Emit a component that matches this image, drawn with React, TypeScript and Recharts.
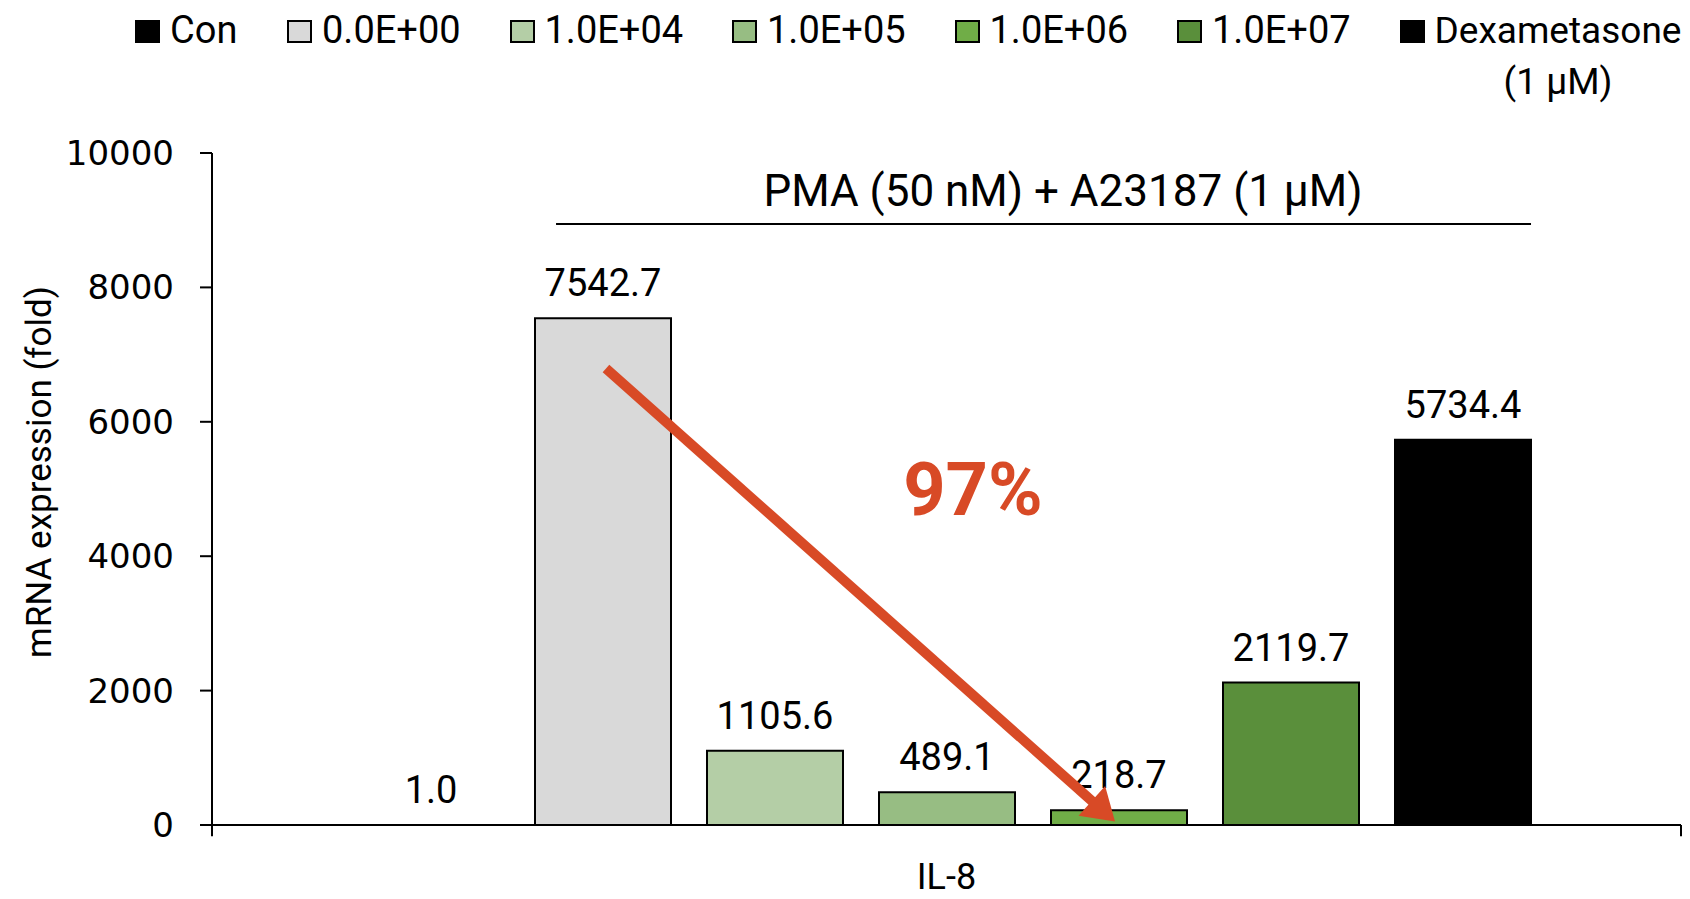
import React from 'react';
import {
  BarChart,
  Bar,
  XAxis,
  YAxis,
  LabelList,
  ReferenceLine,
  ReferenceDot,
  ScatterChart,
} from 'recharts';

// ---- data ----
const categories = ['IL-8'];
const seriesKeys = ['con', 'd0', 'd4', 'd5', 'd6', 'd7', 'dex'];
const seriesNames = ['Con', '0.0E+00', '1.0E+04', '1.0E+05', '1.0E+06', '1.0E+07', 'Dexametasone (1 µM)'];
const seriesValues = [1.0, 7542.7, 1105.6, 489.1, 218.7, 2119.7, 5734.4];
const seriesColors = ['#000000', '#D9D9D9', '#B4CEA6', '#97BD83', '#70AD47', '#5A8F3B', '#000000'];
const yTicks = [0, 2000, 4000, 6000, 8000, 10000];
const yAxisTitle = 'mRNA expression (fold)';
const groupLabel = 'PMA (50 nM) + A23187 (1 µM)';
const reductionLabel = '97%';

const data = categories.map((c) => {
  const row: any = { name: c };
  seriesKeys.forEach((k, i) => {
    row[k] = seriesValues[i];
  });
  return row;
});

const RED = '#D84A26';
const TEXT_FONT = 'Roboto, "Open Sans", sans-serif';
const MARGIN = { top: 153, right: 9, bottom: 0, left: 62 };
const Y_AXIS_W = 150;
const X_AXIS_H = 74;

const Arrow = (p: any) => {
  const { x1, y1, x2, y2 } = p;
  const dx = x2 - x1;
  const dy = y2 - y1;
  const L = Math.hypot(dx, dy) || 1;
  const ux = dx / L;
  const uy = dy / L;
  const hl = 31;
  const hw = 20;
  const bx = x2 - ux * hl;
  const by = y2 - uy * hl;
  return (
    <g>
      <line x1={x1} y1={y1} x2={bx + ux * 2} y2={by + uy * 2} stroke={RED} strokeWidth={10} />
      <polygon
        points={`${x2},${y2} ${bx - uy * hw},${by + ux * hw} ${bx + uy * hw},${by - ux * hw}`}
        fill={RED}
      />
    </g>
  );
};

const Legend = () => (
  <div
    style={{
      position: 'absolute',
      top: 5,
      left: 135,
      display: 'flex',
      fontFamily: TEXT_FONT,
      fontSize: 38,
      lineHeight: '51px',
      color: '#000',
    }}
  >
    {seriesNames.map((n, i) => {
      const last = i === seriesNames.length - 1;
      return (
        <div
          key={n}
          style={{
            display: 'flex',
            alignItems: 'flex-start',
            width: i === 0 ? 152 : last ? 290 : 222.5,
          }}
        >
          <div
            style={{
              width: 25,
              height: 23,
              boxSizing: 'border-box',
              border: '2px solid #000',
              background: seriesColors[i],
              marginTop: 15,
              marginRight: 10,
              flexShrink: 0,
            }}
          />
          <div style={{ textAlign: 'center', whiteSpace: 'pre-line', fontSize: last ? 37 : 38 }}>
            {n.replace(' (', '\n(')}
          </div>
        </div>
      );
    })}
  </div>
);

export default function App() {
  return (
    <div style={{ position: 'absolute', left: 0, top: 0, width: 1690, height: 899, background: '#fff' }}>
      <BarChart width={1690} height={899} data={data} margin={MARGIN} barSize={136} barGap={36}>
        <XAxis
          dataKey="name"
          height={X_AXIS_H}
          tickLine={false}
          tickSize={6}
          tickMargin={32}
          axisLine={{ stroke: '#000', strokeWidth: 2 }}
          tick={{ fill: '#000', fontSize: 36, fontFamily: TEXT_FONT }}
        />
        <YAxis
          domain={[0, 10000]}
          ticks={yTicks}
          interval={0}
          width={Y_AXIS_W}
          tickSize={12}
          tickMargin={26}
          axisLine={{ stroke: '#000', strokeWidth: 2 }}
          tickLine={{ stroke: '#000', strokeWidth: 2 }}
          tick={{ fill: '#000', fontSize: 34, fontFamily: '"DejaVu Sans"' }}
          label={{
            content: (props: any) => {
              const vb = props.viewBox || { x: 62, y: 153, width: 150, height: 672 };
              const cx = vb.x - 11;
              const cy = vb.y + vb.height / 2 - 17;
              return (
                <text
                  x={cx}
                  y={cy}
                  transform={`rotate(-90, ${cx}, ${cy})`}
                  textAnchor="middle"
                  fontSize={35}
                  fontFamily={TEXT_FONT}
                  fill="#000"
                >
                  {yAxisTitle}
                </text>
              );
            },
          }}
        />
        {seriesKeys.map((k, i) => (
          <Bar
            key={k}
            dataKey={k}
            name={seriesNames[i]}
            fill={seriesColors[i]}
            stroke="#000"
            strokeWidth={2}
            isAnimationActive={false}
          >
            <LabelList
              dataKey={k}
              position="top"
              offset={22}
              formatter={(v: any) => Number(v).toFixed(1)}
              style={{ fill: '#000', fontSize: 38, fontFamily: TEXT_FONT }}
            />
          </Bar>
        ))}
      </BarChart>

      {/* annotation layer: same plot area, linear x in % of plot width, y in data units */}
      <div style={{ position: 'absolute', left: 0, top: 0, pointerEvents: 'none' }}>
        <ScatterChart
          width={1690}
          height={899}
          margin={{
            top: MARGIN.top,
            right: MARGIN.right,
            bottom: MARGIN.bottom + X_AXIS_H,
            left: MARGIN.left + Y_AXIS_W,
          }}
        >
          <XAxis type="number" dataKey="x" scale="linear" domain={[0, 100]} allowDataOverflow hide />
          <YAxis type="number" dataKey="y" scale="linear" domain={[0, 10000]} allowDataOverflow hide />
          <ReferenceLine
            segment={[
              { x: 23.42, y: 8943 },
              { x: 89.79, y: 8943 },
            ]}
            stroke="#000"
            strokeWidth={2}
            ifOverflow="visible"
          />
          <ReferenceDot
            x={57.93}
            y={9211}
            r={0}
            ifOverflow="visible"
            shape={(p: any) => (
              <text x={p.cx} y={p.cy} textAnchor="middle" fontSize={44} fontFamily={TEXT_FONT} fill="#000">
                {groupLabel}
              </text>
            )}
          />
          <ReferenceLine
            segment={[
              { x: 0, y: 0 },
              { x: 0, y: -167 },
            ]}
            stroke="#000"
            strokeWidth={2}
            ifOverflow="visible"
          />
          <ReferenceLine
            segment={[
              { x: 100, y: 0 },
              { x: 100, y: -167 },
            ]}
            stroke="#000"
            strokeWidth={2}
            ifOverflow="visible"
          />
          <ReferenceLine
            segment={[
              { x: 26.82, y: 6793 },
              { x: 61.47, y: 52 },
            ]}
            ifOverflow="visible"
            shape={Arrow}
          />
          <ReferenceDot
            x={51.8}
            y={4613}
            r={0}
            ifOverflow="visible"
            shape={(p: any) => (
              <text
                x={p.cx}
                y={p.cy}
                textAnchor="middle"
                fontSize={74}
                fontWeight="bold"
                fontFamily={TEXT_FONT}
                fill={RED}
              >
                {reductionLabel}
              </text>
            )}
          />
        </ScatterChart>
      </div>

      <Legend />
    </div>
  );
}
